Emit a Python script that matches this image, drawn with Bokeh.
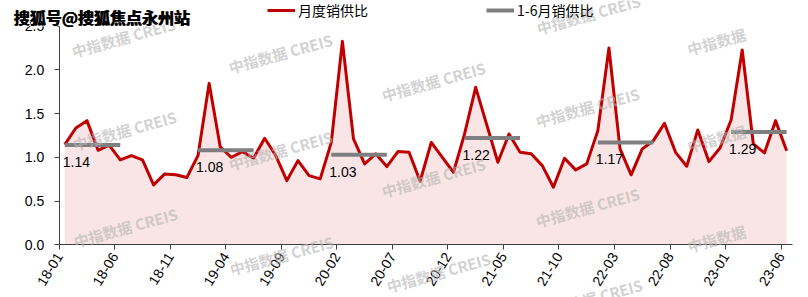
import numpy as np
from bokeh.plotting import figure
from bokeh.models import (ColumnDataSource, Range1d, FixedTicker, Label, Legend,
                          LegendItem, NumeralTickFormatter)
from bokeh.core.properties import value
from bokeh.embed import file_html
from bokeh.resources import INLINE

# ---------------- data ----------------
months = [f"{y % 100:02d}-{m:02d}" for y in range(2018, 2024) for m in range(1, 13)][:66]

ratio_2018 = [1.145, 1.335, 1.419, 1.08, 1.14, 0.97, 1.02, 0.97, 0.685, 0.81, 0.80, 0.77]
ratio_2019 = [1.02, 1.845, 1.12, 1.00, 1.065, 0.99, 1.217, 1.02, 0.734, 0.962, 0.79, 0.753]
ratio_2020 = [1.17, 2.325, 1.21, 0.925, 1.04, 0.894, 1.065, 1.057, 0.726, 1.17, 1.00, 0.829]
ratio_2021 = [1.267, 1.80, 1.37, 0.943, 1.267, 1.057, 1.04, 0.905, 0.658, 0.99, 0.856, 0.925]
ratio_2022 = [1.305, 2.249, 1.096, 0.80, 1.096, 1.19, 1.388, 1.057, 0.898, 1.313, 0.951, 1.107]
ratio_2023 = [1.427, 2.226, 1.153, 1.05, 1.419, 1.076]
monthly_ratio = ratio_2018 + ratio_2019 + ratio_2020 + ratio_2021 + ratio_2022 + ratio_2023

h1_years = [2018, 2019, 2020, 2021, 2022, 2023]
h1_values = [1.14, 1.08, 1.03, 1.22, 1.17, 1.29]

tick_labels = ["18-01", "18-06", "18-11", "19-04", "19-09", "20-02", "20-07",
               "20-12", "21-05", "21-10", "22-03", "22-08", "23-01", "23-06"]
y_ticks = [0.0, 0.5, 1.0, 1.5, 2.0, 2.5]
y_max = 2.5

title_text = "搜狐号@搜狐焦点永州站"
legend_labels = ["月度销供比", "1-6月销供比"]
wm_long = "中指数据 CREIS"
wm_short = "中指数据"

# ---------------- derived ----------------
n = len(monthly_ratio)
x = np.arange(n) + 0.5
src = ColumnDataSource(dict(x=x, y=monthly_ratio, zero=np.zeros(n)))

h1_start = [months.index(f"{yr % 100:02d}-01") + 0.5 for yr in h1_years]
h1_end = [months.index(f"{yr % 100:02d}-06") + 0.5 for yr in h1_years]
h1_src = ColumnDataSource(dict(x0=h1_start, x1=h1_end, y=h1_values,
                               txt=[f"{v:.2f}" for v in h1_values]))

tick_pos = [months.index(t) for t in tick_labels]

# ---------------- layout geometry (pixels) ----------------
W, H = 808, 297
X0, PX_MONTH = 58.7, 11.106      # screen x of the first category edge, px per month
Y0, PX_UNIT = 244.3, 87.5        # screen y of value 0, px per unit

p = figure(width=W, height=H,
           x_range=Range1d(-X0 / PX_MONTH, (W - X0) / PX_MONTH),
           y_range=Range1d(-(H - Y0) / PX_UNIT, Y0 / PX_UNIT),
           toolbar_location=None, output_backend="svg",
           min_border_left=0, min_border_right=0,
           min_border_top=0, min_border_bottom=0)
p.outline_line_color = None
p.grid.visible = False
p.background_fill_color = "white"
p.border_fill_color = "white"

# watermarks (canvas positions, frame == canvas)
wm_positions = [(123, 37, wm_long), (124, 130, wm_long), (125, 227, wm_long),
                (280, 53, wm_long), (280, 150, wm_long), (281, 255, wm_long),
                (433, 81, wm_long), (433, 177, wm_long), (438, 272, wm_long),
                (588, 14, wm_long), (587, 107, wm_long), (587, 207, wm_long),
                (590, 298, wm_long),
                (716, 41, wm_short), (716, 138, wm_short), (716, 238, wm_short)]

# area + line
p.varea(x="x", y1="zero", y2="y", source=src, fill_color="#F9E5E5")
line_r = p.line(x="x", y="y", source=src, line_color="#C00000", line_width=3,
                line_join="round")

# half-year lines
seg_r = p.segment(x0="x0", y0="y", x1="x1", y1="y", source=h1_src,
                  line_color="#7F7F7F", line_width=4)
p.text(x="x0", y="y", text="txt", source=h1_src, x_offset=-2, y_offset=17,
       text_font=value("Liberation Sans"), text_font_size="14px",
       text_color="black", text_align="left", text_baseline="middle")

# axes (drawn at fixed data locations inside the full-canvas frame)
ax = p.xaxis[0]
ax.fixed_location = 0
ax.bounds = (0, n)
ax.ticker = FixedTicker(ticks=tick_pos)
ax.major_label_overrides = {tp: lbl for tp, lbl in zip(tick_pos, tick_labels)}
ax.major_label_orientation = 1.02
ax.major_tick_out = 5
ax.major_tick_in = 0
ax.minor_tick_line_color = None
ax.axis_line_color = "#404040"
ax.major_tick_line_color = "#404040"
ax.major_label_text_font = "Liberation Sans"
ax.major_label_text_font_size = "14px"
ax.major_label_text_color = "black"
ax.major_label_standoff = 4

ay = p.yaxis[0]
ay.fixed_location = 0
ay.ticker = FixedTicker(ticks=y_ticks)
ay.formatter = NumeralTickFormatter(format="0.0")
ay.bounds = (0, y_max)
ay.major_tick_out = 5
ay.major_tick_in = 0
ay.minor_tick_line_color = None
ay.axis_line_color = "#404040"
ay.major_tick_line_color = "#404040"
ay.major_label_text_font = "Liberation Sans"
ay.major_label_text_font_size = "14px"
ay.major_label_text_color = "black"
ay.major_label_standoff = 10

for (sx, sy, t) in wm_positions:
    p.add_layout(Label(x=sx, y=H - sy, x_units="screen", y_units="screen",
                       text=t, angle=0.27, text_align="center", text_baseline="middle",
                       text_font="Noto Sans CJK SC", text_font_style="bold",
                       text_font_size="15px", text_color="#B4B4B4", text_alpha=0.6))

# legends
leg1 = Legend(items=[LegendItem(label=legend_labels[0], renderers=[line_r])],
              location=(267, H - 20))
leg2 = Legend(items=[LegendItem(label=legend_labels[1], renderers=[seg_r])],
              location=(486, H - 20))
for lg in (leg1, leg2):
    lg.orientation = "horizontal"
    lg.glyph_width = 28
    lg.glyph_height = 14
    lg.label_height = 14
    lg.label_standoff = 3
    lg.padding = 0
    lg.margin = 0
    lg.border_line_color = None
    lg.background_fill_alpha = 0
    lg.label_text_font = "Noto Sans CJK SC"
    lg.label_text_font_size = "14px"
    lg.label_text_color = "black"
    p.add_layout(lg)

# title overlay (white halo + heavy black text)
for dx, dy, col in [(-1.5, 0, "white"), (2.3, 0, "white"), (0.4, 1.5, "white"),
                    (0.4, -1.5, "white"), (0, 0, "black"), (0.8, 0, "black")]:
    p.add_layout(Label(x=13 + dx, y=H - 16 + dy, x_units="screen", y_units="screen",
                       text=title_text, text_align="left", text_baseline="middle",
                       text_font="Noto Sans CJK SC", text_font_style="bold",
                       text_font_size="16px", text_color=col))

open("out.html", "w").write(file_html(p, INLINE))
